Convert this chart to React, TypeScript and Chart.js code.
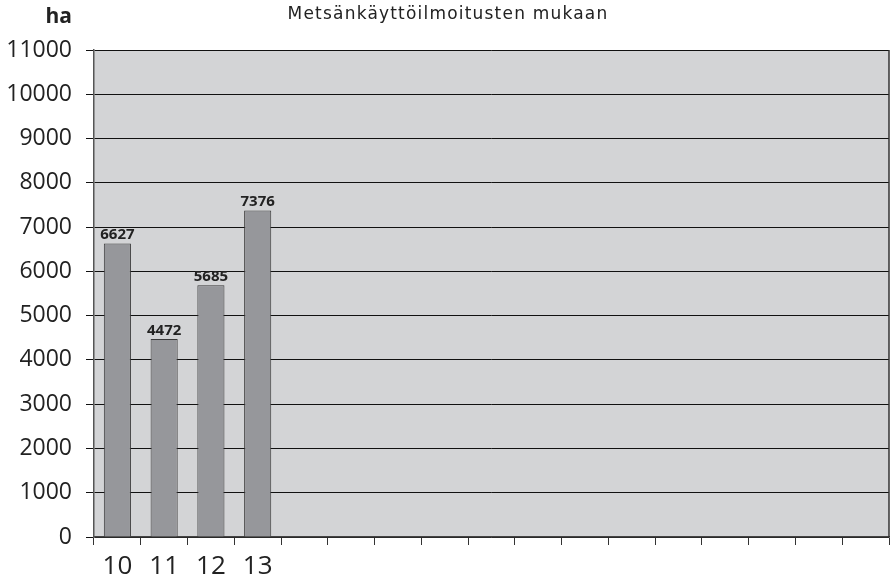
import React, { useEffect, useRef } from 'react';
import { Chart, registerables } from 'chart.js';
Chart.register(...registerables);

const categories = ['10', '11', '12', '13', '', '', '', '', '', '', '', '', '', '', '', '', ''];
const values: (number | null)[] = [6627, 4472, 5685, 7376, null, null, null, null, null, null, null, null, null, null, null, null, null];
const yTicks = [0, 1000, 2000, 3000, 4000, 5000, 6000, 7000, 8000, 9000, 10000, 11000];
const titleText = 'Metsänkäyttöilmoitusten mukaan';
const unitText = 'ha';

const FONT = '"Open Sans", "DejaVu Sans", sans-serif';

export default function App() {
  const ref = useRef<HTMLCanvasElement | null>(null);
  useEffect(() => {
    document.body.style.margin = '0';
    const canvas = ref.current!;
    const decor = {
      id: 'decor',
      beforeDraw(chart: any) {
        const { ctx, chartArea } = chart;
        ctx.save();
        ctx.fillStyle = '#d3d4d6';
        ctx.fillRect(chartArea.left, chartArea.top, chartArea.right - chartArea.left, chartArea.bottom - chartArea.top);
        ctx.restore();
      },
      afterDraw(chart: any) {
        const { ctx, chartArea } = chart;
        ctx.save();
        ctx.strokeStyle = '#333';
        ctx.lineWidth = 1.5;
        ctx.beginPath();
        ctx.moveTo(chartArea.right, chartArea.top);
        ctx.lineTo(chartArea.right, chartArea.bottom);
        ctx.stroke();
        ctx.fillStyle = '#222';
        ctx.font = `17px "DejaVu Sans", sans-serif`;
        (ctx as any).letterSpacing = '1.2px';
        ctx.textAlign = 'center';
        ctx.textBaseline = 'middle';
        ctx.fillText(titleText, 448, 15);
        (ctx as any).letterSpacing = '0px';
        ctx.font = `bold 21px ${FONT}`;
        ctx.textAlign = 'right';
        ctx.fillText(unitText, 72, 17);
        const meta = chart.getDatasetMeta(0);
        ctx.font = `bold 15px ${FONT}`;
        ctx.textAlign = 'center';
        ctx.textBaseline = 'bottom';
        meta.data.forEach((el: any, i: number) => {
          const v = values[i];
          if (v == null) return;
          ctx.fillText(String(v), el.x, el.y - 1);
        });
        ctx.restore();
      },
    };
    const chart = new Chart(canvas, {
      type: 'bar',
      data: {
        labels: categories,
        datasets: [
          {
            data: values,
            backgroundColor: '#96979b',
            borderColor: '#3a3a3a',
            borderWidth: 1,
            categoryPercentage: 1,
            barPercentage: 0.58,
          },
        ],
      },
      options: {
        responsive: false,
        animation: false,
        layout: { padding: { top: 50, right: 2, left: 0, bottom: 0 } },
        plugins: { legend: { display: false }, tooltip: { enabled: false }, title: { display: false } },
        scales: {
          x: {
            grid: { drawOnChartArea: false, color: '#333', tickLength: 8, offset: true },
            border: { color: '#444', width: 1.5 },
            ticks: { color: '#222', font: { family: FONT, size: 26 }, padding: 6, maxRotation: 0, autoSkip: false },
            afterFit(scale: any) { scale.height = 45; },
          },
          y: {
            min: 0,
            max: 11000,
            afterBuildTicks(scale: any) { scale.ticks = yTicks.map((v) => ({ value: v })); },
            grid: { color: '#111', lineWidth: 1, tickLength: 8 },
            border: { color: '#555', width: 1.5 },
            ticks: {
              color: '#222',
              font: { family: FONT, size: 23 },
              padding: 14,
              callback: (v: any) => String(v),
            },
            afterFit(scale: any) { scale.width = 94; },
          },
        },
      },
      plugins: [decor],
    });
    return () => chart.destroy();
  }, []);
  return (
    <div style={{ position: 'absolute', left: 0, top: 0, width: 891, height: 582, background: '#fff' }}>
      <canvas ref={ref} width={891} height={582} />
    </div>
  );
}
